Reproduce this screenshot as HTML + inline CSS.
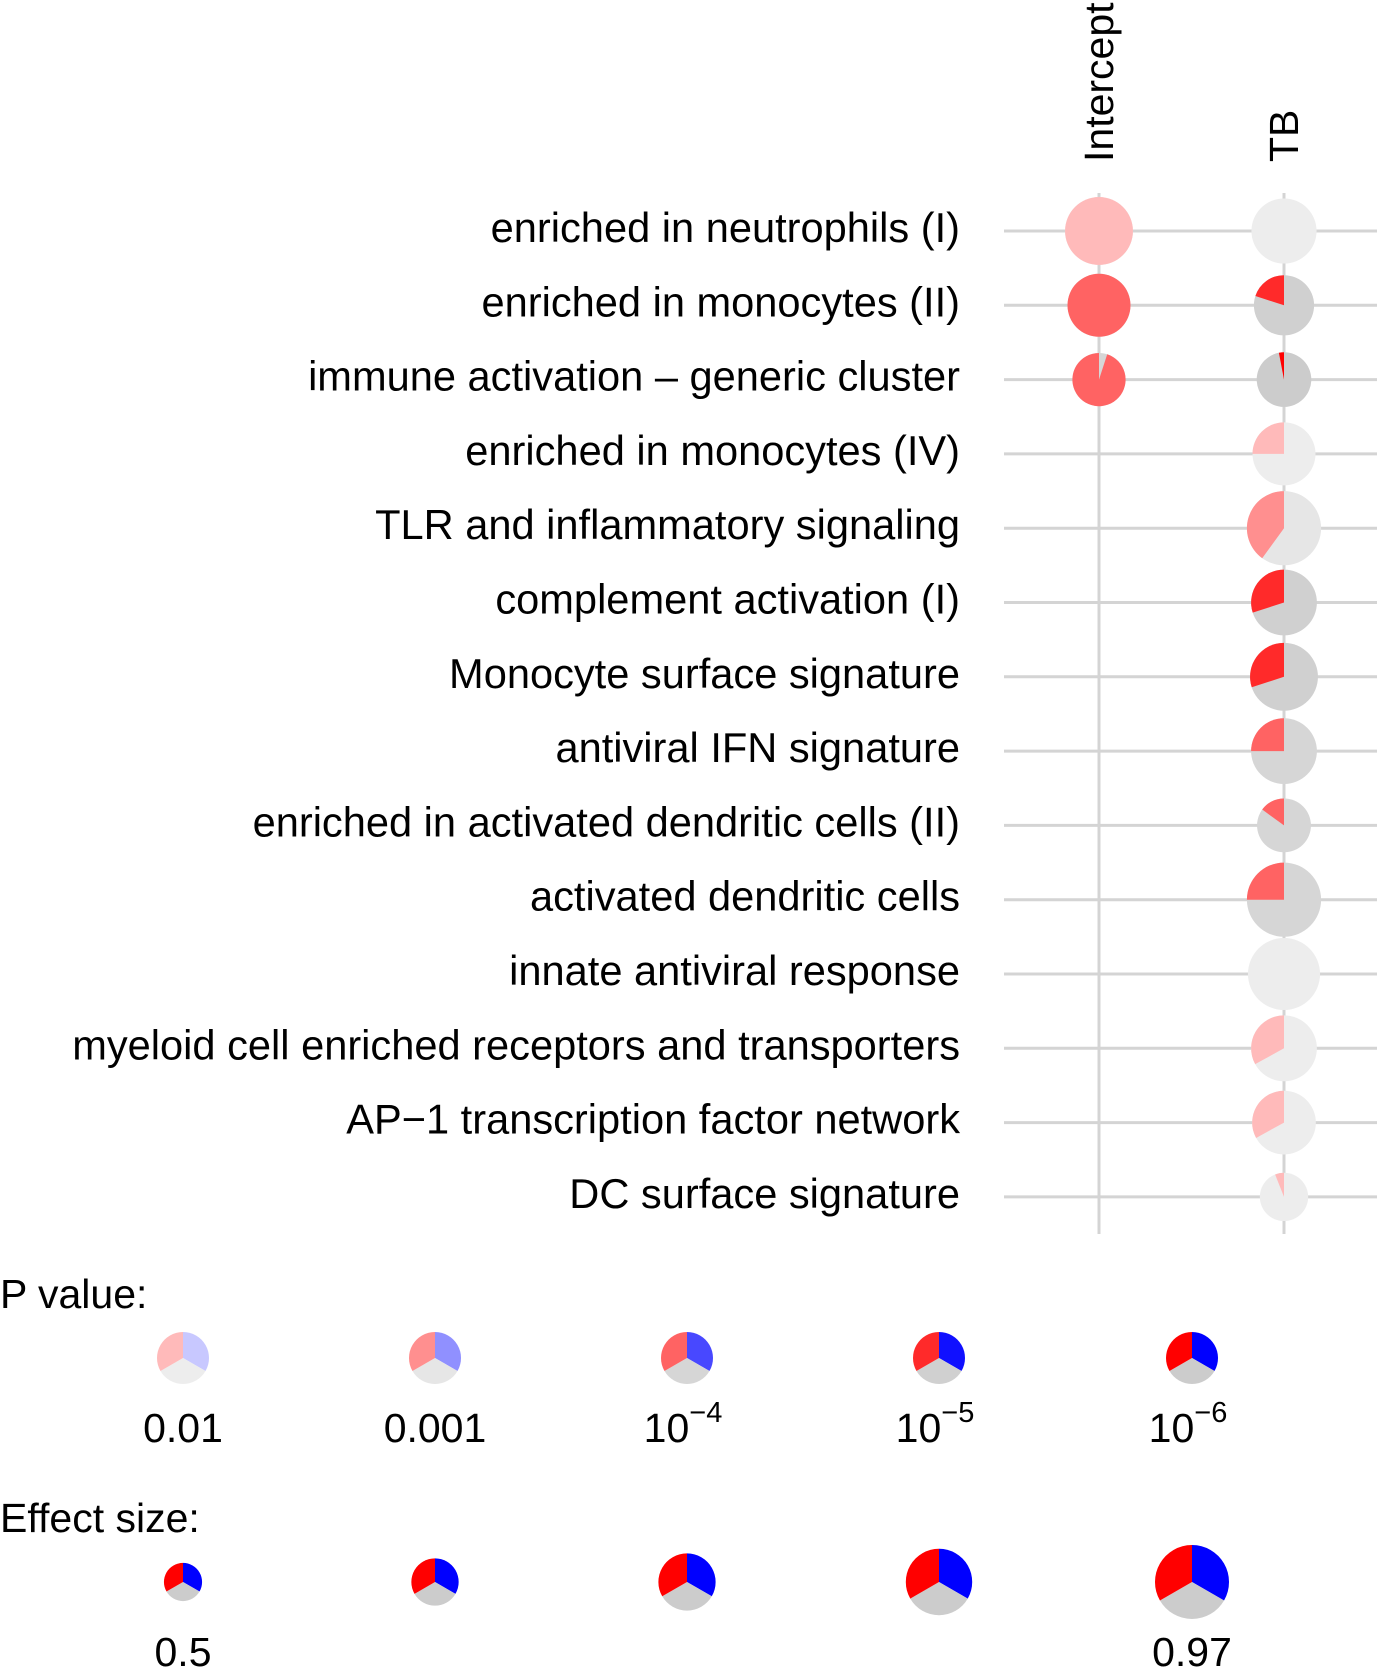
<!DOCTYPE html>
<html><head><meta charset="utf-8"><style>
body{margin:0;background:#fff}
svg{display:block;font-family:"Liberation Sans",sans-serif}
</style></head><body>
<svg id="c" width="1379" height="1671" xmlns="http://www.w3.org/2000/svg"></svg>
<script>
const rows=["enriched in neutrophils (I)","enriched in monocytes (II)","immune activation \u2013 generic cluster","enriched in monocytes (IV)","TLR and inflammatory signaling","complement activation (I)","Monocyte surface signature","antiviral IFN signature","enriched in activated dendritic cells (II)","activated dendritic cells","innate antiviral response","myeloid cell enriched receptors and transporters","AP\u22121 transcription factor network","DC surface signature"];
const columns=["Intercept","TB"];
const interceptFrac=[1,1,0.95,null,null,null,null,null,null,null,null,null,null,null];
const interceptSize=[0.97,0.9,0.76,null,null,null,null,null,null,null,null,null,null,null];
const interceptP=[0,2,2,null,null,null,null,null,null,null,null,null,null,null];
const tbFrac=[0,0.2,0.03,0.25,0.4,0.3,0.3,0.25,0.15,0.25,0,0.33,0.33,0.06];
const tbSize=[0.93,0.86,0.78,0.9,1.06,0.94,0.97,0.94,0.77,1.06,1.03,0.94,0.91,0.69];
const tbP=[0,3,4,0,1,3,3,2,2,2,0,0,0,0];
const legendP=["0.01","0.001","10|4","10|5","10|6"];
const legendEffect=[0.5,0.62,0.75,0.87,0.97];
const redC=["#ffbaba","#ff8f8f","#ff6363","#ff2a2a","#ff0000"];
const blueC=["#c8c8ff","#9090ff","#4848ff","#1010ff","#0000ff"];
const grayC=["#ededed","#e6e6e6","#d6d6d6","#d0d0d0","#cccccc"];
const NS="http://www.w3.org/2000/svg",svg=document.getElementById('c');
const FS=41;
function el(t,a,p){const e=document.createElementNS(NS,t);for(const k in a)e.setAttribute(k,a[k]);(p||svg).appendChild(e);return e;}
const y0=231,dy=74.3,colX=[1099,1284];
const yRow=i=>y0+i*dy, rad=s=>s*35;
function arc(cx,cy,r,a0,a1,fill,g){
  if(a1-a0<=0)return;
  if(a1-a0>=0.9999){const c=el('circle',{cx,cy,r,fill},g);return;}
  const p=a=>[cx+r*Math.sin(2*Math.PI*a),cy-r*Math.cos(2*Math.PI*a)];
  const [x0,yy0]=p(a0),[x1,yy1]=p(a1);
  const e=el('path',{d:`M${cx},${cy}L${x0},${yy0}A${r},${r} 0 ${a1-a0>0.5?1:0} 1 ${x1},${yy1}Z`,fill},g);
  
  
}
for(let i=0;i<rows.length;i++){const l=el('line',{x1:1004,x2:1377,y1:yRow(i),y2:yRow(i),stroke:'#d4d4d4','stroke-width':3});
}
colX.forEach((x,j)=>{const l=el('line',{x1:x,x2:x,y1:193,y2:1234,stroke:'#d4d4d4','stroke-width':3});

const t=el('text',{x:0,y:0,'font-size':FS,transform:`translate(${x+14},162) rotate(-90)`});t.textContent=columns[j];
});
rows.forEach((r,i)=>{const t=el('text',{x:960,y:yRow(i)+11,'font-size':41.6,'text-anchor':'end'});t.textContent=r;
});
function pie(x,y,s,f,p){if(f===null)return;const g=el('g',{});
const r=rad(s);arc(x,y,r,0,1,grayC[p],g);arc(x,y,r,1-f,1,redC[p],g);}
rows.forEach((_,i)=>{pie(colX[0],yRow(i),interceptSize[i],interceptFrac[i],interceptP[i]);pie(colX[1],yRow(i),tbSize[i],tbFrac[i],tbP[i]);});
function txt(x,y,s,name,anchor){const t=el('text',{x,y,'font-size':FS,'text-anchor':anchor||'start'});t.textContent=s;return t;}
txt(0,1308,'P value:','p-value-legend-title');
const lx=[183,435,687,939,1192];
function lpie(x,y,r,k,name){const g=el('g',{});
arc(x,y,r,0,1/3,blueC[k],g);arc(x,y,r,1/3,2/3,grayC[k],g);arc(x,y,r,2/3,1,redC[k],g);}
legendP.forEach((s,k)=>{lpie(lx[k],1358,26,k,'p-legend-pie');
if(s.includes('|')){const [b,e]=s.split('|');const t=txt(lx[k]-4,1442,b,'p-legend-label','middle');
const ts=el('tspan',{dy:-20,'font-size':29},t);ts.textContent='\u2212'+e;}
else txt(lx[k],1442,s,'p-legend-label','middle');});
txt(0,1532,'Effect size:','effect-size-legend-title');
legendEffect.forEach((v,k)=>lpie(lx[k],1582,rad(v)*1.09,4,'effect-legend-pie'));
txt(lx[0],1666,'0.5','effect-legend-min','middle');
txt(lx[4],1666,'0.97','effect-legend-max','middle');
</script>
</body></html>
